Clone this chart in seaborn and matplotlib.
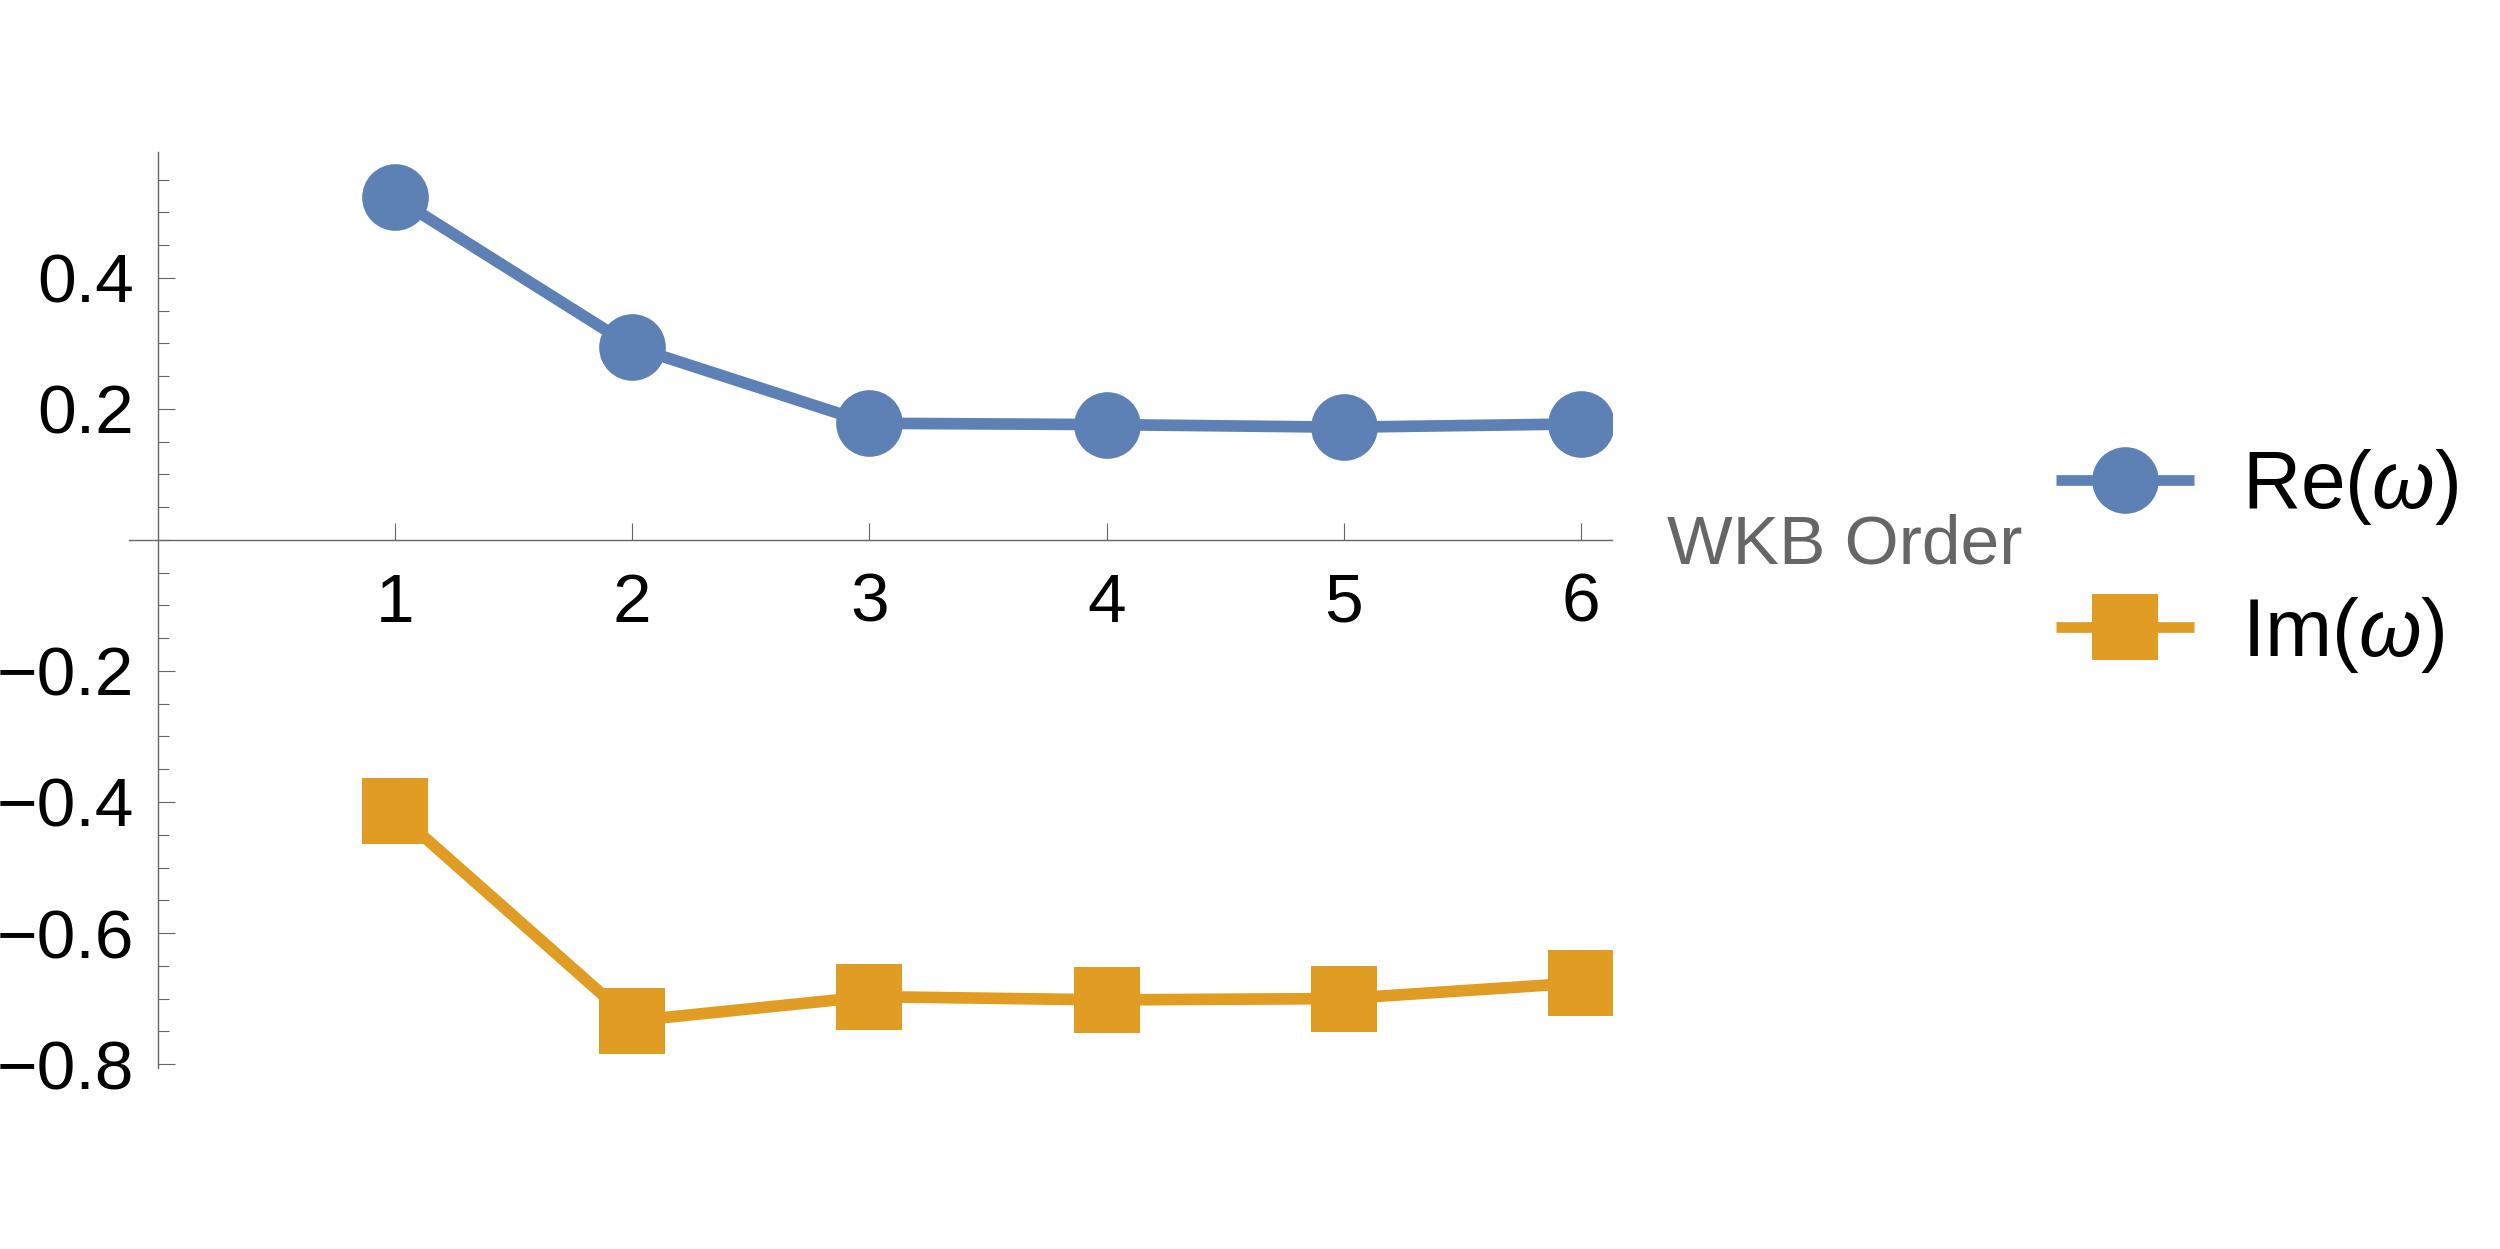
import pandas as pd
import matplotlib
matplotlib.use('Agg')
import matplotlib.pyplot as plt
from matplotlib.lines import Line2D
from matplotlib.ticker import FixedLocator, MultipleLocator
import seaborn as sns

# datos
orders = [1, 2, 3, 4, 5, 6]
re_omega = [0.523, 0.295, 0.178, 0.176, 0.172, 0.177]
im_omega = [-0.414, -0.734, -0.697, -0.702, -0.700, -0.676]
series_names = ['Re', 'Im']
series_labels = ['Re($\\omega$)', 'Im($\\omega$)']
colors = ['#5E81B5', '#E19C24']
y_major = [-0.8, -0.6, -0.4, -0.2, 0.2, 0.4]

df = pd.concat([
    pd.DataFrame({'order': orders, 'value': re_omega, 'part': 'Re'}),
    pd.DataFrame({'order': orders, 'value': im_omega, 'part': 'Im'}),
])

sns.set_theme(style='white')
plt.rcParams['font.family'] = ['Liberation Sans', 'DejaVu Sans']
plt.rcParams['mathtext.fontset'] = 'custom'
plt.rcParams['mathtext.it'] = 'Liberation Sans:italic'
plt.rcParams['mathtext.rm'] = 'Liberation Sans'
plt.rcParams['lines.solid_capstyle'] = 'butt'

fig = plt.figure(figsize=(25, 12.49), dpi=100)
ax = fig.add_axes([0.0516, 0.1449, 0.5931, 0.7334])

sns.lineplot(data=df, x='order', y='value', hue='part', style='part',
             hue_order=series_names, style_order=series_names,
             palette=colors, markers=['o', 's'], dashes=False,
             estimator=None, sort=False, legend=False,
             linewidth=8.4, markersize=48, markeredgewidth=0, ax=ax)

ax.set_xlim(-0.121, 6.129)
ax.set_ylim(-0.806, 0.592)

axis_col = '#666666'
for s in ['top', 'right']:
    ax.spines[s].set_visible(False)
ax.spines['left'].set_position(('data', 0))
ax.spines['bottom'].set_position(('data', 0))
for s in ['left', 'bottom']:
    ax.spines[s].set_color(axis_col)
    ax.spines[s].set_linewidth(1.0)

ax.xaxis.set_major_locator(FixedLocator(orders))
ax.yaxis.set_major_locator(FixedLocator(y_major))
ax.yaxis.set_minor_locator(MultipleLocator(0.05))
ax.tick_params(axis='both', which='both', direction='in', color=axis_col,
               labelcolor='black', labelsize=50, bottom=True, left=True,
               top=False, right=False)
ax.tick_params(axis='x', which='minor', bottom=False)
ax.tick_params(axis='both', which='major', length=12, width=0.8)
ax.tick_params(axis='y', which='minor', length=7.7, width=0.8)
ax.tick_params(axis='x', which='major', pad=23)
ax.tick_params(axis='y', which='major', pad=17)

ax.set_ylabel('')
ax.set_xlabel('WKB Order', fontsize=50, color=axis_col, ha='left', va='baseline')
ax.xaxis.set_label_coords(1.0373, 0.5513)

handles = [Line2D([], [], color=c, marker=m, linewidth=7.7, markersize=48,
                  markeredgewidth=0, solid_capstyle='butt')
           for c, m in zip(colors, ['o', 's'])]
fig.legend(handles, series_labels, loc='center left',
           bbox_to_anchor=(0.8224, 0.551), frameon=False, fontsize=58,
           handlelength=1.71, handletextpad=0.6, labelspacing=0.84,
           borderpad=0, borderaxespad=0, labelcolor='black')

plt.savefig('out.png', dpi=100)
